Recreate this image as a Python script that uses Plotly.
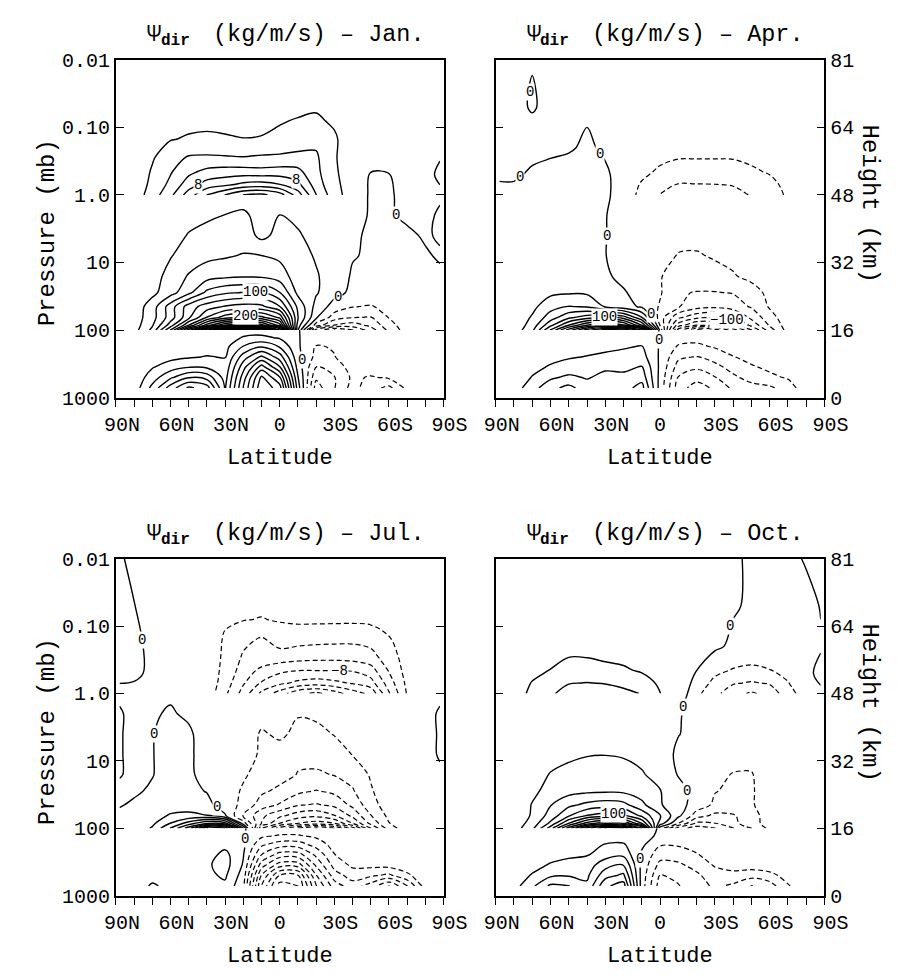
import math
import plotly.graph_objects as go

FONT = "Liberation Mono"
W, H = 909, 975

# Latitude columns (degrees, north positive) shared by every field table
LATS = [88, 80, 70, 60, 50, 40, 30, 20, 10, 0, -10, -20, -30, -40, -50, -60, -70, -80, -88]

# Pressure levels (mb) of the three stacked layers
P_TROPO = [720, 500, 350, 250, 175, 130, 100]
P_STRAT = [100, 85, 65, 45, 28, 16, 8, 4, 2, 1, 0.5, 0.2, 0.05, 0.01]
P_MESO = [1, 0.7, 0.45, 0.28, 0.15, 0.08, 0.03, 0.01]

# ---------------- January ----------------
JAN_TROPO = [
    [0.1, 0.4, 2.3, 4.5, 6.2, 5.5, 1.9, 6.05, 9.8, 8.5, 1.5, -3.5, -2.05, -0.6, -1.6, -2.3, -0.7, -0.2, -0.1],
    [0.1, 0.3, 1.5, 2.8, 3.9, 3.6, 1.6, 5.5, 9.2, 7.05, 1.05, -2.8, -2.05, -0.8, -1.1, -0.8, -0.3, -0.1, -0.1],
    [0.05, 0.2, 0.9, 1.5, 1.9, 1.8, 1.3, 4.6, 7.4, 5.05, 0.6, -2.05, -1.5, -0.6, -0.4, -0.2, -0.1, -0.05, -0.05],
    [0.05, 0.1, 0.4, 0.7, 0.9, 1.05, 0.95, 3.5, 5.2, 3.5, 0.3, -1.3, -1.05, -0.3, -0.2, -0.1, -0.05, -0.05, -0.05],
    [0.02, 0.05, 0.2, 0.4, 0.5, 0.6, 0.7, 2.05, 2.9, 1.9, 0.15, -1.1, -0.9, -0.15, -0.1, -0.05, -0.03, -0.02, -0.02],
    [0.02, 0.03, 0.1, 0.2, 0.25, 0.3, 0.4, 1.1, 1.2, 0.9, 0.05, -0.4, -0.35, -0.1, -0.05, -0.03, -0.02, -0.02, -0.02],
    [0.01, 0.02, 0.05, 0.1, 0.15, 0.2, 0.25, 0.5, 0.6, 0.4, 0.02, -0.2, -0.2, -0.05, -0.03, -0.02, -0.01, -0.01, -0.01],
]
JAN_STRAT = [
    [2, 12, 45, 121, 230, 341, 430, 470, 450, 330, 41, -90, -121, -101, -70, -35, -10, -3, -1],
    [2, 10, 38, 90, 161, 230, 281, 301, 290, 230, 50, -30, -61, -70, -55, -28, -8, -2, -0.5],
    [2, 9, 32, 70, 115, 161, 190, 205, 205, 175, 61, 3, -30, -39, -41, -19, -6, -1.5, -0.5],
    [2, 8, 30, 70, 110, 130, 142, 148, 145, 121, 55, 13, -8, -19, -22, -12, -4, -1, -0.5],
    [1, 5, 15, 32, 55, 85, 97, 101, 102, 81, 35, 22, 6, -4, -3, -2, -1, -1, -0.5],
    [1, 4, 13, 26, 42, 52, 56, 58, 57, 50, 30, 22, 10, -2, -3, -2, -1, -1, -0.5],
    [1, 3, 10, 19, 28, 35, 38, 41.5, 40.5, 36, 28, 18, 9, 1, -2, -2, -1.5, -0.3, 0.3],
    [0.5, 1, 8, 14, 21, 26, 28, 30, 15, 26, 22, 14, 8, 2, -2, -2, -0.5, 0.3, -0.3],
    [0.5, 0.8, 6, 11, 15, 17, 20.3, 23, 14, 20.5, 16, 11, 6, 2, -0.5, -0.3, 0.5, 0.5, -0.3],
    [1, 1.5, 4, 7, 9, 11, 12, 12, 11, 11, 9, 6, 3.5, 1.5, -0.3, -0.2, 0.5, 0.5, 0.3],
    [1, 1, 2.5, 4, 5, 6, 6.5, 6.5, 6, 5.5, 4.5, 3, 1.8, 0.8, -0.05, -0.02, 0.4, 0.5, -0.3],
    [0.8, 0.8, 1.5, 2.5, 3, 3.5, 4, 4, 3.5, 3, 2.5, 2, 1.2, 0.7, 0.3, 0.4, 0.5, 0.5, 0.3],
    [0.5, 0.5, 0.5, 0.5, 0.5, 0.5, 0.5, 0.5, 0.5, 0.5, 0.5, 0.5, 0.5, 0.5, 0.5, 0.5, 0.5, 0.5, 0.5],
    [0.5, 0.5, 0.5, 0.5, 0.5, 0.5, 0.5, 0.5, 0.5, 0.5, 0.5, 0.5, 0.5, 0.5, 0.5, 0.5, 0.5, 0.5, 0.5],
]
JAN_MESO = [
    [0.3, 0.8, 3.0, 5.5, 9.0, 12.05, 14.05, 16.05, 16.5, 15.0, 11.0, 6.05, 2.8, 1.0, 0.5, 0.3, 0.2, 0.1, 0.1],
    [0.3, 0.7, 2.5, 4.5, 7.0, 8.8, 9.5, 10.5, 10.8, 10.05, 8.5, 5.0, 2.5, 1.0, 0.5, 0.3, 0.2, 0.1, 0.1],
    [0.3, 0.6, 2.2, 3.8, 5.5, 6.5, 6.8, 6.8, 6.6, 6.8, 6.5, 4.5, 2.3, 0.9, 0.5, 0.3, 0.2, 0.1, 0.1],
    [0.3, 0.5, 1.8, 3.2, 4.2, 4.3, 4.2, 4.1, 4.3, 4.4, 4.6, 4.3, 2.2, 0.8, 0.4, 0.3, 0.2, 0.1, 0.1],
    [0.2, 0.4, 1.2, 1.9, 2.2, 2.3, 2.2, 2.05, 2.1, 2.3, 2.8, 3.5, 2.3, 0.7, 0.4, 0.3, 0.2, 0.1, 0.1],
    [0.2, 0.3, 0.8, 1.3, 1.5, 1.6, 1.5, 1.4, 1.6, 1.9, 2.1, 2.3, 1.7, 0.6, 0.4, 0.3, 0.2, 0.1, 0.1],
    [0.1, 0.2, 0.5, 0.8, 0.9, 1.0, 1.0, 0.9, 1.0, 1.1, 1.2, 1.2, 1.0, 0.5, 0.3, 0.2, 0.1, 0.1, 0.1],
    [0.1, 0.1, 0.2, 0.3, 0.3, 0.3, 0.3, 0.3, 0.3, 0.3, 0.3, 0.3, 0.3, 0.2, 0.2, 0.1, 0.1, 0.1, 0.1],
]

# ---------------- April ----------------
APR_TROPO = [
    [0.1, 0.5, 1.6, 2.7, 3.3, 2.5, 2.2, 2.6, 3.4, -0.4, -3.5, -4.5, -3.8, -2.8, -2.4, -2.2, -1.5, -0.4, -0.1],
    [0.1, 0.3, 1.05, 1.8, 2.2, 1.9, 2.3, 2.2, 2.6, -0.3, -3.05, -3.6, -3.05, -2.2, -1.6, -1.2, -0.9, -0.3, -0.1],
    [0.05, 0.2, 0.7, 1.1, 1.4, 1.6, 1.8, 1.8, 2.05, -0.2, -2.4, -2.8, -2.3, -1.6, -1.1, -0.8, -0.5, -0.2, -0.05],
    [0.02, 0.1, 0.4, 0.7, 0.9, 1.05, 1.2, 1.3, 1.4, -0.15, -1.8, -2.05, -1.6, -1.05, -0.7, -0.4, -0.3, -0.1, -0.05],
    [0.02, 0.05, 0.2, 0.35, 0.5, 0.6, 0.75, 0.9, 1.05, -0.1, -1.1, -1.2, -0.9, -0.5, -0.3, -0.2, -0.1, -0.05, -0.02],
    [0.01, 0.03, 0.1, 0.2, 0.25, 0.3, 0.4, 0.5, 0.6, -0.05, -0.6, -0.7, -0.5, -0.25, -0.15, -0.1, -0.05, -0.02, -0.01],
    [0.01, 0.02, 0.05, 0.1, 0.12, 0.15, 0.2, 0.25, 0.3, -0.02, -0.3, -0.35, -0.25, -0.1, -0.05, -0.03, -0.02, -0.01, -0.01],
]
APR_STRAT = [
    [2, 8, 35, 102, 170, 230, 270, 261, 205, -5, -150, -205, -190, -150, -102, -50, -12, -4, -2],
    [2, 7, 28, 75, 121, 161, 181, 165, 101, -21, -110, -141, -135, -110, -75, -38, -10, -4, -2],
    [2, 6, 22, 50, 75, 90, 101, 90, 41, -30, -75, -95, -101, -85, -55, -28, -8, -3, -1],
    [1, 4, 15, 32, 41, 38, 18, 8, -3, -22, -38, -52, -56, -50, -38, -18, -5, -2, -1],
    [1, 3, 10, 16, 18, 17, 10, 2, -8, -18, -38, -41, -41, -39, -30, -14, -4, -2, -1],
    [1, 2, 6, 9, 9, 7, 3, -5, -14, -19, -27, -28, -27, -22, -14, -8, -3, -1.5, -1],
    [1, 1.5, 4, 5, 5, 3, 0.3, -5, -10, -14, -21, -22, -18, -14, -8, -4, -2, -1, -0.5],
    [1, 1, 2.5, 3, 3, 2, 0.3, -3, -7, -10, -15, -14, -11, -8, -5, -3, -1.5, -1, -0.5],
    [0.8, 0.8, 1.5, 2, 2, 1.2, 0.2, -2, -5, -7, -9, -9, -8, -6, -4, -2, -1, -0.6, -0.4],
    [0.6, 0.6, 1, 1.3, 1.3, 1, 0.4, -1, -3, -5, -6, -6, -6, -5, -3, -2, -1, -0.5, -0.3],
    [-0.3, -0.3, 0.3, 0.6, 0.8, 0.8, 0.3, -0.8, -2, -3.5, -4.5, -4.5, -4.5, -4, -2.5, -1.5, -0.8, -0.4, -0.3],
    [-0.3, -0.5, -0.6, -0.4, -0.2, 0.3, -0.3, -1, -2, -2.5, -3, -3, -3, -2.8, -2, -1.2, -0.7, -0.4, -0.3],
    [-0.3, -0.3, 0.1, -0.3, -0.3, -0.3, -0.3, -0.3, -0.3, -0.3, -0.3, -0.3, -0.3, -0.3, -0.3, -0.3, -0.3, -0.3, -0.3],
    [-0.3, -0.3, -0.05, -0.3, -0.3, -0.3, -0.3, -0.3, -0.3, -0.3, -0.3, -0.3, -0.3, -0.3, -0.3, -0.3, -0.3, -0.3, -0.3],
]
APR_MESO = [
    [0, 0, 0, 0, 0, 0, 0, -1, -2.5, -4.1, -4.8, -4.8, -4.7, -4.5, -3.9, -3, -1.7, -0.8, -0.4],
    [0, 0, 0, 0, 0, 0, 0, -0.8, -2.2, -3.2, -4.1, -4.05, -4.02, -3.9, -3.4, -2.6, -1.4, -0.7, -0.3],
    [0, 0, 0, 0, 0, 0, 0, -0.5, -1.5, -2.3, -2.8, -2.9, -2.9, -2.7, -2.3, -1.8, -1, -0.5, -0.3],
    [0, 0, 0, 0, 0, 0, 0, -0.4, -1.0, -1.6, -1.9, -1.9, -1.9, -1.9, -1.6, -1.2, -0.8, -0.4, -0.2],
    [0, 0, 0, 0, 0, 0, 0, -0.3, -0.7, -1.1, -1.3, -1.3, -1.3, -1.3, -1.1, -0.8, -0.5, -0.3, -0.2],
    [0, 0, 0, 0, 0, 0, 0, -0.2, -0.5, -0.8, -0.9, -0.9, -0.9, -0.9, -0.8, -0.6, -0.4, -0.2, -0.1],
    [0, 0, 0, 0, 0, 0, 0, -0.1, -0.2, -0.3, -0.5, -0.5, -0.5, -0.5, -0.4, -0.3, -0.2, -0.1, -0.1],
    [0, 0, 0, 0, 0, 0, 0, -0.05, -0.1, -0.1, -0.2, -0.2, -0.2, -0.2, -0.1, -0.1, -0.1, -0.05, -0.05],
]

# ---------------- July ----------------
JUL_TROPO = [
    [0.1, 0.2, 1.2, 0.6, 0.3, 0.4, 0.8, -0.8, -7.05, -10.5, -10.05, -6.05, -3.5, -2.5, -3.5, -5.05, -3.05, -0.5, -0.1],
    [0.05, 0.1, 0.5, 0.4, 0.3, 0.8, 1.15, -0.45, -6.05, -9.05, -9.05, -5.05, -2.5, -1.5, -1.8, -2.2, -1.2, -0.3, -0.1],
    [0.05, 0.1, 0.2, 0.3, 0.4, 0.85, 1.4, -0.1, -4.5, -6.5, -6.5, -3.8, -1.6, -0.8, -0.7, -0.6, -0.4, -0.1, -0.05],
    [0.03, 0.05, 0.1, 0.2, 0.3, 0.6, 1.3, 0.05, -3.05, -4.5, -4.5, -2.8, -1.05, -0.4, -0.2, -0.2, -0.1, -0.05, -0.03],
    [0.02, 0.05, 0.1, 0.15, 0.2, 0.3, 0.7, 0.2, -1.8, -2.5, -2.5, -1.6, -0.6, -0.2, -0.1, -0.1, -0.05, -0.02, -0.02],
    [0.02, 0.02, 0.05, 0.1, 0.1, 0.15, 0.3, 0.1, -0.8, -1.1, -1.1, -0.8, -0.3, -0.1, -0.05, -0.05, -0.02, -0.02, -0.02],
    [0.01, 0.01, 0.02, 0.05, 0.05, 0.08, 0.1, 0.05, -0.3, -0.4, -0.4, -0.3, -0.1, -0.05, -0.02, -0.02, -0.01, -0.01, -0.01],
]
JUL_STRAT = [
    [3, 8, 22, 61, 110, 201, 181, 41, -121, -170, -201, -221, -201, -150, -81, -30, -8, -3, -1],
    [2, 6, 16, 41, 70, 101, 90, -10, -81, -121, -141, -150, -141, -101, -55, -21, -6, -2, -1],
    [1.5, 5, 12, 22, 24, 21, 2, -41, -75, -95, -110, -115, -101, -75, -41, -15, -5, -2, -1],
    [-0.5, 1, 6, 11, 12, 6, -10, -25, -50, -62, -78, -82, -75, -55, -28, -10, -4, -1.5, -1],
    [-1, -1, 1, 4, 5, -1, -12, -22, -36, -45, -55, -61, -55, -42, -22, -8, -3, -1, -0.5],
    [0.3, -1, -0.3, 3, 2, -4, -12, -18, -26, -32, -41, -43, -39, -32, -18, -7, -3, -1, -0.5],
    [0.3, -1, -0.2, 2, 1, -2.5, -8, -14, -22, -27, -35, -32, -25, -19.5, -12, -5, -2, -1, 0.3],
    [0.3, -1, -0.2, 1.5, 0.5, -1.5, -5, -10, -22, -17, -24, -23, -19.5, -13, -7, -3, -1.5, -1, 0.3],
    [0.3, -0.8, -0.3, 0.3, -0.5, -1.5, -4, -8, -14, -16, -19, -18, -15, -10, -5, -2.5, -1.2, -0.8, 0.3],
    [-0.5, -0.6, -0.5, -0.4, -0.8, -1.5, -3, -6, -10, -12, -13, -13, -11, -8, -4, -2, -1, -0.6, -0.5],
    [0.5, 0.4, -0.4, -0.5, -0.6, -1, -2, -4, -7, -8, -9, -9, -8, -6, -3, -1.5, -0.8, -0.5, -0.4],
    [0.5, 0.3, -0.3, -0.4, -0.5, -0.8, -1.5, -3, -5, -6, -6.5, -6.5, -6, -4.5, -2.5, -1.2, -0.6, -0.4, -0.3],
    [0.3, 0.02, -0.3, -0.3, -0.4, -0.5, -1, -1.5, -2.5, -3, -3, -3, -3, -2.5, -1.5, -0.8, -0.4, -0.3, -0.2],
    [0.1, -0.2, -0.3, -0.3, -0.3, -0.3, -0.4, -0.5, -0.8, -1, -1, -1, -1, -0.8, -0.5, -0.3, -0.3, -0.2, -0.2],
]
JUL_MESO = [
    [0.5, 0.3, 0.1, 0.05, 0.02, -0.8, -3.6, -6.8, -10.5, -13, -15.5, -16.5, -15, -13, -11.5, -6.2, -1.8, -0.6, -0.3],
    [0.4, 0.3, 0.1, 0.05, -0.1, -0.6, -3.0, -5.8, -8.2, -9.5, -10.5, -11, -10.5, -9.8, -8.8, -5, -1.5, -0.5, -0.3],
    [0.3, 0.2, 0.1, 0.05, -0.1, -0.5, -2.7, -4.8, -6.5, -7.5, -7.9, -7.9, -7.9, -7.8, -6.8, -3.8, -1.2, -0.4, -0.2],
    [0.2, 0.1, 0.05, 0.02, -0.1, -0.4, -2.5, -4.2, -4.4, -4.6, -5, -5.2, -5.2, -5, -4.6, -3.0, -1.0, -0.3, -0.2],
    [0.2, 0.1, 0.05, 0.02, -0.1, -0.3, -2.3, -3.5, -4.1, -3.2, -3.2, -3.3, -3.4, -3.5, -3.2, -2.1, -0.7, -0.3, -0.2],
    [0.1, 0.05, 0.02, 0.01, -0.1, -0.2, -1.6, -1.9, -2.1, -1.8, -1.6, -1.6, -1.6, -1.6, -1.5, -1.2, -0.5, -0.2, -0.1],
    [0.05, 0.02, 0.01, 0.01, -0.05, -0.1, -0.8, -0.9, -1.0, -0.9, -0.8, -0.8, -0.8, -0.8, -0.8, -0.6, -0.3, -0.1, -0.05],
    [0.02, 0.01, 0.01, 0.01, -0.02, -0.05, -0.3, -0.3, -0.3, -0.3, -0.3, -0.3, -0.3, -0.3, -0.3, -0.2, -0.1, -0.05, -0.02],
]

# ---------------- October ----------------
OCT_TROPO = [
    [0.1, 0.6, 1.8, 3.2, 3.05, 2.2, 4.8, 5.5, -0.5, -3.5, -3.05, -2.5, -1.8, -2.2, -3.05, -2.5, -1.1, -0.3, -0.1],
    [0.05, 0.3, 1.1, 1.8, 1.9, 1.8, 3.6, 4.2, -0.4, -3.05, -2.8, -2.2, -1.4, -1.3, -1.6, -1.3, -0.6, -0.2, -0.05],
    [0.05, 0.2, 0.6, 1.1, 1.3, 1.5, 2.6, 3.05, -0.3, -2.3, -2.2, -1.6, -0.9, -0.6, -0.5, -0.4, -0.2, -0.1, -0.05],
    [0.02, 0.1, 0.35, 0.6, 0.85, 0.95, 1.6, 1.8, -0.2, -1.6, -1.5, -1.1, -0.5, -0.3, -0.2, -0.15, -0.1, -0.05, -0.02],
    [0.02, 0.05, 0.15, 0.3, 0.45, 0.6, 1.05, 1.1, 0.2, -0.9, -0.9, -0.6, -0.25, -0.1, -0.05, -0.05, -0.03, -0.02, -0.02],
    [0.01, 0.03, 0.08, 0.15, 0.25, 0.35, 0.5, 0.5, 0.2, -0.1, -0.5, -0.3, -0.1, -0.05, -0.03, -0.02, -0.02, -0.01, -0.01],
    [0.01, 0.02, 0.04, 0.08, 0.1, 0.12, 0.15, 0.15, 0.1, -0.02, -0.2, -0.15, -0.05, -0.02, -0.02, -0.01, -0.01, -0.01, -0.01],
]
OCT_STRAT = [
    [2, 10, 35, 90, 170, 250, 301, 281, 205, -10, -70, -90, -81, -61, -41, -15, -4, -2, -1],
    [2, 8, 28, 65, 121, 170, 195, 181, 121, 30, -20.5, -65, -61, -45, -30, -10, -3, -1.5, -1],
    [2, 7, 22, 48, 78, 101, 110, 105, 75, 41, 5, -30, -45, -42, -30, -8, -2, -1, -0.5],
    [1.5, 6, 21, 39, 55, 65, 70, 66, 45, 22, 7, -8, -24, -26, -23, -6, -2, -1, -0.5],
    [1, 5, 16, 26, 33, 36, 37, 36, 30, 21, 6, -6, -19, -24, -23, -6, -2, -1, -0.5],
    [1, 4, 12, 21, 26, 28, 29, 28, 22, 12, -1, -8, -15, -21, -21.5, -7, -2, -1, -0.5],
    [1, 3, 8, 13, 16, 19, 19.5, 18, 14, 8, -3, -7, -10, -12, -12, -5, -2, -1, -0.5],
    [0.8, 2, 5, 8, 10.5, 11, 11, 10.5, 8, 5, 0.5, -4, -6, -7, -7, -3, -1.5, -1, -0.5],
    [0.6, 1.5, 3.5, 5, 6, 6.5, 6.5, 6, 5, 3, 0.5, -2, -4, -4.5, -4.5, -2, -1, -0.6, -0.3],
    [0.5, 1, 2.5, 3.5, 4, 4.5, 4.5, 4, 3, 2, 0.5, -0.5, -2.5, -3, -3, -1.5, -0.8, -0.5, -0.2],
    [0.4, 0.8, 1.8, 2.5, 3, 3, 3, 2.5, 2, 1.2, 0.5, -0.05, -1.5, -2, -2, -1, -0.6, -0.3, 0.3],
    [0.3, 0.6, 1.2, 1.6, 1.8, 1.8, 1.8, 1.6, 1.3, 1, 0.8, 0.5, 0.3, -0.3, -1.2, -0.8, -0.5, -0.3, -0.1],
    [0.2, 0.4, 0.7, 0.9, 1, 1, 1, 0.9, 0.8, 0.7, 0.6, 0.5, 0.4, 0.15, -0.2, -0.4, -0.4, -0.35, 0.05],
    [0.1, 0.2, 0.3, 0.4, 0.4, 0.4, 0.4, 0.4, 0.3, 0.3, 0.3, 0.2, 0.2, 0.1, -0.1, -0.2, -0.3, 0.1, 0.3],
]
OCT_MESO = [
    [0.3, 1.2, 2.4, 3.7, 4.8, 5.2, 5.05, 4.5, 3.9, 2.05, 0.5, -1.5, -3.4, -5.2, -6.3, -5.3, -2.8, -1, -0.5],
    [0.3, 1, 2.1, 3.1, 3.9, 4.05, 3.9, 3.5, 3.05, 1.6, 0.4, -1.1, -2.4, -3.8, -4.2, -3.8, -2.1, -0.7, -0.3],
    [0.2, 0.7, 1.5, 2.05, 2.6, 2.8, 2.6, 2.3, 1.7, 1.1, 0.3, -0.8, -1.6, -2.1, -2.3, -2.05, -1.4, -0.6, -0.3],
    [0.2, 0.5, 1.0, 1.4, 1.95, 1.9, 1.6, 1.4, 1.0, 0.6, 0.2, -0.4, -0.9, -1.3, -1.5, -1.3, -0.9, -0.4, -0.2],
    [0.1, 0.3, 0.6, 0.8, 1.0, 1.0, 0.9, 0.8, 0.6, 0.4, 0.1, -0.2, -0.5, -0.7, -0.8, -0.7, -0.5, -0.2, -0.1],
    [0.1, 0.2, 0.3, 0.4, 0.5, 0.5, 0.5, 0.4, 0.3, 0.2, 0.05, -0.1, -0.3, -0.4, -0.4, -0.4, -0.3, -0.1, -0.05],
    [0.05, 0.1, 0.15, 0.2, 0.2, 0.2, 0.2, 0.2, 0.15, 0.1, 0.02, -0.05, -0.1, -0.2, -0.2, -0.2, -0.1, -0.05, -0.02],
    [0.02, 0.05, 0.05, 0.1, 0.1, 0.1, 0.1, 0.1, 0.05, 0.05, 0.01, -0.02, -0.05, -0.1, -0.1, -0.1, -0.05, -0.02, -0.01],
]

# Contour labels: (layer, level, mode, where, hint)
#   mode "lat": label sits on the level's line crossing latitude `where`, nearest pressure `hint`
#   mode "p":   label sits on the level's line crossing pressure `where`, nearest latitude `hint`
JAN_LABELS = [
    ("meso", 8, "lat", 45, 0.65), ("meso", 8, "lat", -9, 0.65),
    ("strat", 100, "lat", 13.5, 28), ("strat", 200, "lat", 18.7, 68),
    ("strat", 0, "p", 32, -36), ("strat", 0, "p", 2, -66.8), ("tropo", 0, "p", 278, -14.2),
]
APR_LABELS = [
    ("strat", 0, "p", 0.55, 74.3), ("strat", 0, "p", 0.25, 32.8), ("strat", 0, "p", 4, 29.3),
    ("strat", 0, "p", 57, 8.2), ("tropo", 0, "p", 139, 1.8), ("strat", 0, "p", 0.03, 70),
    ("strat", 100, "lat", 30.2, 73), ("strat", -100, "lat", -36.4, 72),
]
JUL_LABELS = [
    ("strat", 0, "p", 0.16, 76.8), ("strat", 0, "p", 4, 66.8), ("strat", 0, "p", 49, 35.9),
    ("tropo", 0, "p", 143, 17.7), ("meso", -8, "lat", -33, 0.52),
]
OCT_LABELS = [
    ("strat", 0, "p", 0.10, -39.9), ("strat", 0, "p", 1.6, -13), ("strat", 0, "p", 28, -12.7),
    ("tropo", 0, "p", 288, 10.9), ("strat", 100, "lat", 25.3, 61),
]

# Axis ticks
LAT_MAJOR = [90, 60, 30, 0, -30, -60, -90]
LAT_MAJOR_TEXT = ["\u00a090N", "\u00a060N", "\u00a030N", "0", "\u00a030S", "\u00a060S", "\u00a090S"]
LAT_MINOR = [80, 70, 50, 40, 20, 10, -10, -20, -40, -50, -70, -80]
P_TICKS = [1000, 100, 10, 1, 0.1, 0.01]
P_LABELS = ["1000", "100", "10", "1.0", "0.10", "0.01"]
KM_LABELS = ["0", "16", "32", "48", "64", "81"]

# Contour spacing for each layer (units per line) and the largest level drawn
STEP = {"tropo": 1, "strat": 20, "meso": 2}
MAXLEV = {"tropo": 20, "strat": 600, "meso": 30}
PLEVS = {"tropo": P_TROPO, "strat": P_STRAT, "meso": P_MESO}

PANELS = [
    dict(month="Jan.", tropo=JAN_TROPO, strat=JAN_STRAT, meso=JAN_MESO, labels=JAN_LABELS),
    dict(month="Apr.", tropo=APR_TROPO, strat=APR_STRAT, meso=APR_MESO, labels=APR_LABELS),
    dict(month="Jul.", tropo=JUL_TROPO, strat=JUL_STRAT, meso=JUL_MESO, labels=JUL_LABELS),
    dict(month="Oct.", tropo=OCT_TROPO, strat=OCT_STRAT, meso=OCT_MESO, labels=OCT_LABELS),
]

# Panel frames in pixels: (left, right) and (top, bottom)
PX_X = [(97, 443), (498, 845)]
PX_Y = [(51, 397), (562, 907)]
X_DOM = [[a / W, b / W] for a, b in PX_X]
Y_DOM = [[1 - b / H, 1 - a / H] for a, b in PX_Y]

DASH = "5px,3px"


def contour_trace(z, p, ax, lo, hi, step, negative):
    return go.Contour(
        x=LATS, y=p, z=z,
        xaxis="x" + ax, yaxis="y" + ax,
        autocontour=False,
        contours=dict(start=lo, end=hi + step * 0.01, size=step, coloring="none", showlabels=False),
        line=dict(color="black", width=1.2 if negative else 1.4,
                  dash=DASH if negative else "solid", smoothing=1.0),
        showscale=False, hoverinfo="skip",
    )


def field_value(z, plev, lat, logp):
    """Bilinear value of a layer table at (lat, log10 p)."""
    lp = [math.log10(v) for v in plev]
    j = 0
    while j < len(LATS) - 2 and lat < LATS[j + 1]:
        j += 1
    fx = (LATS[j] - lat) / (LATS[j] - LATS[j + 1])
    i = 0
    while i < len(lp) - 2 and logp < lp[i + 1]:
        i += 1
    fy = (lp[i] - logp) / (lp[i] - lp[i + 1])
    fx = min(max(fx, 0.0), 1.0)
    fy = min(max(fy, 0.0), 1.0)
    a = z[i][j] * (1 - fx) + z[i][j + 1] * fx
    b = z[i + 1][j] * (1 - fx) + z[i + 1][j + 1] * fx
    return a * (1 - fy) + b * fy


def crossings_along(samples, level, value_of):
    out = []
    prev = None
    for s in samples:
        v = value_of(s) - level
        if prev is not None and (v == 0 or (v > 0) != (prev[1] > 0)):
            t = prev[1] / (prev[1] - v) if prev[1] != v else 0
            out.append(prev[0] + (s - prev[0]) * t)
        prev = (s, v)
    return out


def label_position(z, plev, level, mode, where, hint):
    """Locate where a contour level crosses a given latitude or pressure line."""
    if mode == "lat":
        hi, lo = math.log10(max(plev)), math.log10(min(plev))
        samples = [hi - (hi - lo) * k / 400 for k in range(401)]
        found = crossings_along(samples, level, lambda lg: field_value(z, plev, where, lg))
        if not found:
            return None
        return where, min(found, key=lambda c: abs(c - math.log10(hint)))
    lg = math.log10(where)
    samples = [LATS[0] - (LATS[0] - LATS[-1]) * k / 704 for k in range(705)]
    found = crossings_along(samples, level, lambda la: field_value(z, plev, la, lg))
    if not found:
        return None
    return min(found, key=lambda c: abs(c - hint)), lg


def text_note(text, x, y, size, xanchor="center", bold=False, angle=0):
    return dict(
        text="<b>" + text + "</b>" if bold else text, x=x / W, y=1 - y / H,
        xref="paper", yref="paper", showarrow=False, textangle=angle,
        xanchor=xanchor, yanchor="middle", font=dict(family=FONT, size=size, color="black"))


fig = go.Figure()
annotations = []
for i, panel in enumerate(PANELS):
    ax = "" if i == 0 else str(i + 1)
    for layer in ("tropo", "strat", "meso"):
        z = panel[layer]
        plev = PLEVS[layer]
        step = STEP[layer]
        top = MAXLEV[layer]
        fig.add_trace(contour_trace(z, plev, ax, step, top, step, False))
        fig.add_trace(contour_trace(z, plev, ax, -top, -step, step, True))
        if layer != "meso":
            fig.add_trace(contour_trace(z, plev, ax, 0, 0, step, False))
    for layer, level, mode, where, hint in panel["labels"]:
        pos = label_position(panel[layer], PLEVS[layer], level, mode, where, hint)
        if pos is None:
            continue
        annotations.append(dict(
            text=str(level).replace("-", "\u2212"), x=pos[0], y=pos[1],
            xref="x" + ax, yref="y" + ax, showarrow=False,
            xanchor="center", yanchor="middle", bgcolor="white", borderpad=0,
            font=dict(family=FONT, size=14, color="black")))

layout = dict(
    width=W, height=H, margin=dict(l=0, r=0, t=0, b=0),
    paper_bgcolor="white", plot_bgcolor="white", showlegend=False,
    font=dict(family=FONT, size=20, color="black"),
)
for i, panel in enumerate(PANELS):
    r, c = divmod(i, 2)
    n = "" if i == 0 else str(i + 1)
    layout["xaxis" + n] = dict(
        domain=X_DOM[c], anchor="y" + n, range=[90, -90],
        tickmode="array", tickvals=LAT_MAJOR, ticktext=LAT_MAJOR_TEXT,
        ticks="outside", ticklen=8, tickwidth=1.3, tickcolor="black",
        minor=dict(tickmode="array", tickvals=LAT_MINOR, ticks="outside",
                   ticklen=8, tickwidth=1.3, tickcolor="black", showgrid=False),
        showline=True, linecolor="black", linewidth=1.5, mirror=True,
        showgrid=False, zeroline=False,
        tickfont=dict(family=FONT, size=20, color="black"),
    )
    layout["yaxis" + n] = dict(
        domain=Y_DOM[r], anchor="x" + n, type="log", range=[3, -2],
        tickmode="array", tickvals=P_TICKS,
        ticktext=P_LABELS if c == 0 else KM_LABELS,
        side="left" if c == 0 else "right",
        ticks="inside", ticklen=8, tickwidth=1.3, tickcolor="black",
        showline=True, linecolor="black", linewidth=1.5, mirror="ticks",
        showgrid=False, zeroline=False,
        tickfont=dict(family=FONT, size=20, color="black"),
    )
    left, right = PX_X[c]
    top, bottom = PX_Y[r]
    ty = top - 26
    # title: Psi, bold subscript, then units and month
    annotations.append(text_note("\u03a8", left + 31, ty, 23.5, xanchor="left"))
    annotations.append(text_note("dir", left + 45, ty + 7, 16, xanchor="left", bold=True))
    annotations.append(text_note("(kg/m/s) \u2013 " + panel["month"], left + 100, ty, 23.5, xanchor="left"))
    annotations.append(text_note("Latitude", (left + right) / 2, bottom + 62, 22))
    if c == 0:
        annotations.append(text_note("Pressure (mb)", 25, top + 177, 24, angle=-90))
    else:
        annotations.append(text_note("Height (km)", 893, top + 147, 24, angle=90))
layout["annotations"] = annotations
fig.update_layout(**layout)
fig.write_html("out.html")
